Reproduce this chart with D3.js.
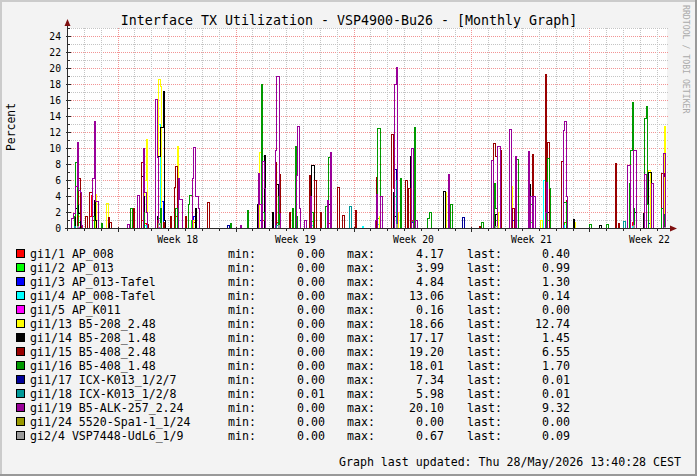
<!DOCTYPE html>
<html><head><meta charset="utf-8">
<script src="https://cdn.jsdelivr.net/npm/d3@7"></script>
<style>
body{margin:0;background:#f3f3f3}
svg{display:block}
text{font-family:"DejaVu Sans Mono",monospace}
</style>
</head><body>
<svg id="c" width="697" height="476"></svg>
<script>
// ---------- data ----------
const title = "Interface TX Utilization - VSP4900-Bu26 - [Monthly Graph]";
const yLabel = "Percent";
const footer = "Graph last updated: Thu 28/May/2026 13:40:28 CEST";
const yTicks = [0,2,4,6,8,10,12,14,16,18,20,22,24];
const weekLabels = ["Week 18","Week 19","Week 20","Week 21","Week 22"];
const weekStartHours = [72,240,408,576,744];   // Monday 00:00 of each week, hours from graph start
const totalHours = 854.4;                       // span of the graph in hours
const stepHours = 2;                            // RRD consolidation step

const seriesNames = ["gi1/1 AP_008","gi1/2 AP_013","gi1/3 AP_013-Tafel","gi1/4 AP_008-Tafel","gi1/5 AP_K011",
  "gi1/13 B5-208_2.48","gi1/14 B5-208_1.48","gi1/15 B5-408_2.48","gi1/16 B5-408_1.48","gi1/17 ICX-K013_1/2/7",
  "gi1/18 ICX-K013_1/2/8","gi1/19 B5-ALK-257_2.24","gi1/24 5520-Spa1-1_1/24","gi2/4 VSP7448-UdL6_1/9"];
const seriesColors = ["#FF0000","#00FF00","#0000FF","#00FFFF","#FF00FF","#FFFF00","#000000","#990000",
  "#009900","#000099","#009999","#990099","#999900","#999999"];
const minVals  = ["0.00","0.00","0.00","0.00","0.00","0.00","0.00","0.00","0.00","0.00","0.01","0.00","0.00","0.00"];
const maxVals  = ["4.17","3.99","4.84","13.06","0.16","18.66","17.17","19.20","18.01","7.34","5.98","20.10","0.00","0.67"];
const lastVals = ["0.40","0.99","1.30","0.14","0.00","12.74","1.45","6.55","1.70","0.01","0.01","9.32","0.00","0.09"];

// sparse samples: [hour from start, percent]; unlisted steps read as 0
const gi1_1 = [[16,0.8],[32,1.5],[34,4.17],[36,1.0],[58,0.5],[106,1.0],[110,0.6],[132,0.9],[154,1.5],[180,0.8],[278,1.0],[298,0.8],[350,1.0],[372,0.6],[444,0.8],[490,1.0],[542,0.5],[606,1.2],[636,0.6],[662,1.0],[708,0.8],[804,0.8],[830,1.0],[850,0.4]];
const gi1_2 = [[14,1.8],[38,1.2],[108,0.8],[130,1.2],[156,0.9],[176,1.0],[276,1.2],[300,1.0],[326,0.8],[348,0.9],[374,1.0],[442,1.3],[466,3.99],[490,0.9],[610,1.0],[638,0.9],[660,0.8],[684,1.0],[706,0.8],[806,1.0],[830,0.9],[850,0.99]];
const gi1_3 = [[14,0.4],[134,3.4],[180,1.5],[274,1.0],[370,2.0],[468,4.84],[490,0.7],[634,1.0],[658,1.2],[682,0.8],[828,0.6],[850,1.3]];
const gi1_4 = [[14,0.5],[40,0.3],[110,0.4],[130,13.06],[156,0.5],[182,0.4],[272,0.5],[298,0.6],[348,0.4],[420,0.3],[442,0.5],[468,1.0],[492,0.5],[632,2.0],[678,6.0],[706,0.4],[804,0.3],[850,0.14]];
const gi1_5 = [[16,0.16],[130,0.1],[300,0.12],[468,0.15]];
const gi1_13 = [[14,3.0],[16,1.5],[40,4.3],[56,3.1],[110,6.0],[112,11.1],[130,18.66],[132,17.75],[156,10.3],[180,1.0],[274,9.5],[300,1.0],[324,1.0],[444,1.5],[470,2.0],[488,4.0],[538,4.5],[612,2.0],[632,5.3],[656,1.0],[674,1.0],[722,0.7],[806,1.5],[828,7.3],[850,12.74]];
const gi1_14 = [[12,2.5],[14,4.3],[16,1.9],[38,3.5],[40,1.0],[58,0.8],[106,6.5],[108,4.0],[128,1.5],[130,9.0],[132,12.6],[134,12.6],[136,17.17],[138,1.0],[156,1.5],[182,2.5],[270,3.0],[280,9.1],[292,2.0],[298,5.5],[346,1.5],[348,7.9],[350,7.9],[372,3.0],[464,4.5],[466,1.5],[488,9.0],[536,4.6],[610,1.8],[636,1.5],[658,5.5],[684,2.0],[720,1.1],[758,0.4],[808,2.0],[820,1.9],[828,7.0],[830,7.0],[850,1.45]];
const gi1_15 = [[14,3.0],[16,6.3],[18,1.0],[26,1.5],[32,4.5],[34,4.5],[58,1.4],[60,0.8],[94,2.5],[106,8.3],[114,0.5],[128,1.0],[136,0.8],[146,1.5],[152,5.1],[154,7.8],[156,2.0],[168,1.5],[200,3.2],[276,1.5],[296,8.3],[302,6.8],[316,2.0],[344,6.6],[352,6.0],[360,2.0],[384,5.1],[386,5.1],[392,1.6],[410,2.2],[440,6.4],[462,11.7],[464,5.0],[482,6.0],[486,5.0],[586,0.3],[606,10.6],[608,10.6],[610,9.0],[616,9.8],[634,2.5],[662,9.25],[680,19.2],[684,10.7],[704,8.4],[710,3.5],[780,8.1],[784,0.6],[846,6.9],[848,6.9],[850,6.55]];
const gi1_16 = [[10,1.5],[12,8.3],[14,1.8],[36,1.5],[48,0.6],[90,2.5],[108,2.0],[132,2.5],[154,2.5],[172,3.0],[174,4.1],[176,4.1],[232,0.6],[256,2.2],[276,18.01],[278,2.0],[280,1.0],[300,4.0],[320,2.5],[324,10.25],[326,1.5],[348,2.0],[368,2.8],[372,8.9],[442,12.5],[444,12.5],[474,6.2],[494,12.6],[512,1.3],[514,1.3],[516,2.0],[546,3.0],[590,0.7],[608,5.6],[610,2.5],[640,8.6],[660,3.0],[682,3.0],[684,8.7],[686,5.0],[706,3.3],[708,3.3],[744,0.5],[768,0.5],[800,5.6],[802,9.8],[804,15.75],[806,2.5],[822,13.8],[824,15.3],[826,3.0],[846,2.5],[850,1.7]];
const gi1_17 = [[228,0.4],[466,7.34],[562,1.4],[564,1.4],[850,0.01]];
const gi1_18 = [[10,0.3],[130,0.5],[298,0.4],[402,2.75],[468,5.98],[792,0.9],[850,0.01]];
const gi1_19 = [[6,1.3],[8,1.9],[10,1.9],[12,5.2],[14,10.8],[16,4.8],[18,4.5],[20,0.4],[36,6.3],[38,13.4],[40,3.4],[42,3.4],[86,0.5],[100,4.1],[108,10.0],[110,4.5],[112,2.0],[126,16.1],[128,8.9],[158,6.2],[160,3.6],[162,3.6],[178,6.2],[180,10.1],[182,4.0],[184,4.0],[186,2.5],[246,0.4],[272,6.9],[274,3.0],[278,8.4],[280,5.0],[296,9.8],[298,19.0],[300,19.0],[302,1.9],[326,6.6],[328,12.7],[330,2.5],[338,1.0],[346,4.0],[370,3.5],[374,9.5],[438,1.0],[440,4.3],[446,4.0],[466,18.0],[468,20.1],[490,10.0],[496,1.0],[542,6.7],[604,8.5],[612,10.3],[614,10.3],[630,12.4],[638,9.0],[656,9.6],[660,4.0],[664,4.0],[680,2.0],[682,5.8],[706,12.25],[708,13.4],[710,4.0],[798,7.9],[800,7.9],[806,9.75],[808,9.75],[822,6.8],[832,5.6],[848,9.32],[850,9.32]];
const gi1_24 = [];
const gi2_4 = [[14,0.3],[130,0.67],[300,0.4],[468,0.5],[610,0.3],[806,0.4],[850,0.09]];
const seriesSamples = [gi1_1,gi1_2,gi1_3,gi1_4,gi1_5,gi1_13,gi1_14,gi1_15,gi1_16,gi1_17,gi1_18,gi1_19,gi1_24,gi2_4];

// ---------- drawing ----------
const svg = d3.select("#c");
const W = 697, H = 476;
const L = 67, R = 667, T = 28, B = 228;
const x = d3.scaleLinear().domain([0, totalHours]).range([L + 0.5, R + 0.5]);
const y = d3.scaleLinear().domain([0, 25]).range([B + 0.5, T + 0.5]);

svg.append("rect").attr("width", W).attr("height", H).attr("fill", "#f3f3f3");
// 3D frame
svg.append("rect").attr("x",0).attr("y",0).attr("width",W).attr("height",2).attr("fill","#cbcbcb");
svg.append("rect").attr("x",0).attr("y",0).attr("width",2).attr("height",H).attr("fill","#cbcbcb");
svg.append("rect").attr("x",0).attr("y",H-2).attr("width",W).attr("height",2).attr("fill","#999999");
svg.append("rect").attr("x",W-2).attr("y",0).attr("width",2).attr("height",H).attr("fill","#999999");
// canvas
svg.append("rect").attr("x", L).attr("y", T).attr("width", R - L).attr("height", B - T).attr("fill", "#ffffff");

const grid = svg.append("g").attr("shape-rendering", "crispEdges");
const minorCol = "#c4c4c4", majorCol = "#f29494";
// horizontal grid
d3.range(1, 26).forEach(v => {
  const major = v % 2 === 0;
  grid.append("line").attr("x1", L).attr("x2", R + 1).attr("y1", y(v)).attr("y2", y(v))
    .attr("stroke", major ? majorCol : minorCol).attr("stroke-dasharray", "1,1");
});
// vertical grid (days, weeks)
d3.range(24, totalHours, 24).forEach(h => {
  const major = weekStartHours.includes(h);
  grid.append("line").attr("x1", x(h)).attr("x2", x(h)).attr("y1", T).attr("y2", B)
    .attr("stroke", major ? majorCol : minorCol).attr("stroke-dasharray", "1,1");
});

// series
const steps = d3.range(0, totalHours - 1, stepHours);
const line = d3.line().x(d => x(d[0])).y(d => y(d[1])).curve(d3.curveStepAfter);
const gSeries = svg.append("g").attr("shape-rendering", "crispEdges");
seriesSamples.forEach((samples, i) => {
  const m = new Map(samples.map(d => [d[0], d[1]]));
  const pts = steps.map(h => [h, m.has(h) ? m.get(h) : 0]);
  pts.push([steps[steps.length - 1] + stepHours, pts[pts.length - 1][1]]);
  gSeries.append("path").attr("d", line(pts)).attr("fill", "none")
    .attr("stroke", seriesColors[i]).attr("stroke-width", 1);
});

// axes
const axisColor = "#2c2c2c";
const yAxis = d3.axisLeft(y).tickValues(yTicks).tickSize(0).tickPadding(6).tickFormat(d3.format("d"));
const gy = svg.append("g").attr("transform", `translate(${L},0)`).call(yAxis);
gy.select(".domain").remove();
gy.selectAll("text").attr("font-family", "DejaVu Sans Mono").attr("font-size", "9.7px").attr("fill", "#000");

const xAxis = d3.axisBottom(x).tickValues(weekStartHours.map(h => h + 84)).tickSize(0).tickPadding(6)
  .tickFormat((d, i) => weekLabels[i]);
const gx = svg.append("g").attr("transform", `translate(0,${B})`).call(xAxis);
gx.select(".domain").remove();
gx.selectAll("text").attr("font-family", "DejaVu Sans Mono").attr("font-size", "9.7px").attr("fill", "#000").attr("dy", "0.95em");

const ax = svg.append("g").attr("shape-rendering", "crispEdges");
// tick marks
d3.range(0, 26).forEach(v => {
  const len = v % 2 === 0 ? 2 : 1;
  ax.append("line").attr("x1", L + 0.5 - len).attr("x2", L + 0.5 + len + 1).attr("y1", y(v)).attr("y2", y(v)).attr("stroke", axisColor);
});
d3.range(24, totalHours, 24).forEach(h => {
  const len = weekStartHours.includes(h) ? 2 : 1;
  ax.append("line").attr("x1", x(h)).attr("x2", x(h)).attr("y1", B + 0.5 - len).attr("y2", B + 0.5 + len + 1).attr("stroke", axisColor);
});
ax.append("line").attr("x1", L + 0.5).attr("x2", L + 0.5).attr("y1", B + 3).attr("y2", 24).attr("stroke", axisColor);
ax.append("line").attr("x1", L - 2).attr("x2", R + 6).attr("y1", B + 0.5).attr("y2", B + 0.5).attr("stroke", axisColor);
svg.append("path").attr("d", `M${L + 0.5},19 L${L + 3.5},26 L${L - 2.5},26 Z`).attr("fill", "#7f1010");
svg.append("path").attr("d", `M${R + 10},${B + 0.5} L${R + 3},${B + 3.5} L${R + 3},${B - 2.5} Z`).attr("fill", "#7f1010");

// title & labels
svg.append("text").attr("x", 349).attr("y", 24.5).attr("text-anchor", "middle")
  .attr("font-size", "13.3px").attr("fill", "#000").text(title);
svg.append("text").attr("transform", "translate(14.5,127) rotate(-90)").attr("text-anchor", "middle")
  .attr("font-size", "11.4px").attr("fill", "#000").text(yLabel);
svg.append("text").attr("transform", "translate(683,5) rotate(90)").attr("text-anchor", "start")
  .attr("font-size", "8.2px").attr("fill", "#aaaaaa").text("RRDTOOL / TOBI OETIKER");

// legend
const leg = svg.append("g").attr("font-size", "11.6px").attr("fill", "#000");
seriesNames.forEach((name, i) => {
  const cy = 254 + 14 * i;
  leg.append("rect").attr("x", 16.5).attr("y", cy - 4.5).attr("width", 8).attr("height", 8)
    .attr("fill", seriesColors[i]).attr("stroke", "#000").attr("stroke-width", 1).attr("shape-rendering", "crispEdges");
  const by = cy + 4;
  leg.append("text").attr("x", 30).attr("y", by).text(name);
  leg.append("text").attr("x", 228).attr("y", by).text("min:");
  leg.append("text").attr("x", 325).attr("y", by).attr("text-anchor", "end").text(minVals[i]);
  leg.append("text").attr("x", 347).attr("y", by).text("max:");
  leg.append("text").attr("x", 444).attr("y", by).attr("text-anchor", "end").text(maxVals[i]);
  leg.append("text").attr("x", 467).attr("y", by).text("last:");
  leg.append("text").attr("x", 570).attr("y", by).attr("text-anchor", "end").text(lastVals[i]);
});
svg.append("text").attr("x", 681).attr("y", 466).attr("text-anchor", "end")
  .attr("font-size", "11.6px").attr("fill", "#000").text(footer);
</script>
</body></html>
